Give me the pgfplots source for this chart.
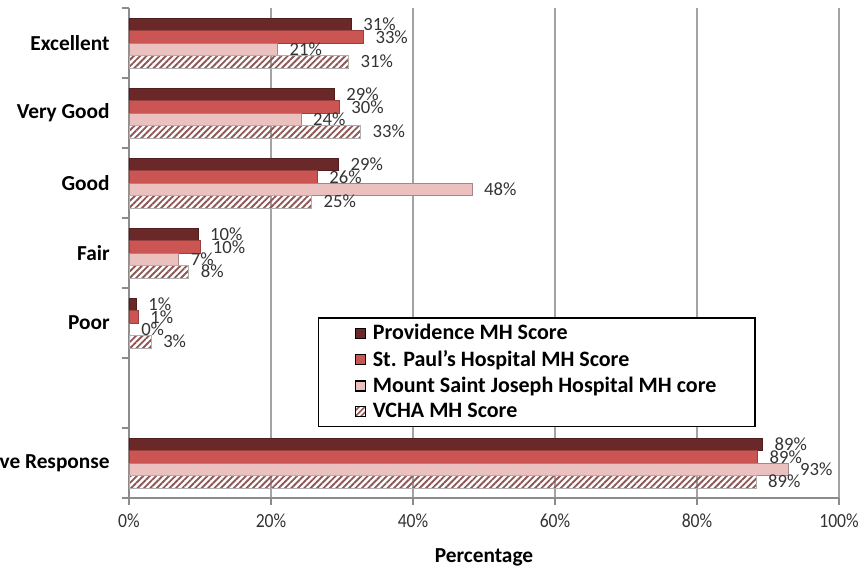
\documentclass[border=0pt]{standalone}
\usepackage{fontspec}
\setmainfont{Carlito}
\newfontfamily\tickfont{Carlito}[FakeStretch=0.88]
\usepackage{pgfplots}
\pgfplotsset{compat=1.18}
\usetikzlibrary{patterns.meta}

\definecolor{prov}{HTML}{6A2828}
\definecolor{sph}{HTML}{CB5552}
\definecolor{msj}{HTML}{EBC1C0}
\definecolor{vcha}{HTML}{8E5655}
\definecolor{gridc}{HTML}{8C8C8C}

\begin{document}
\begin{tikzpicture}
\begin{axis}[
  at={(0,0)}, anchor=south west,
  scale only axis, width=532.5pt, height=367.5pt,
  xbar=0pt, bar width=9.3pt,
  xmin=0, xmax=100, ymin=-0.5, ymax=6.5,
  axis x line*=bottom, axis y line*=left,
  axis line style={-, draw=gridc, line width=0.8pt},
  xtick={0,20,...,100},
  xticklabels={0\%,20\%,40\%,60\%,80\%,100\%},
  ytick={-0.5,0.5,...,6.5}, yticklabels={},
  extra y ticks={0,2,3,4,5,6},
  extra y tick labels={Positive Response,Poor,Fair,Good,Very Good,Excellent},
  extra y tick style={major tick length=0pt},
  tick align=outside, major tick length=5pt,
  tick style={draw=gridc, line width=0.8pt},
  xmajorgrids, grid style={draw=gridc!80, line width=0.8pt},
  xticklabel style={font=\tickfont\fontsize{15}{17}\selectfont, text=black!80, yshift=-3.5pt},
  yticklabel style={font=\bfseries\fontsize{16}{19}\selectfont, xshift=-11pt},
  xlabel={Percentage},
  xlabel style={font=\bfseries\fontsize{16}{19}\selectfont, yshift=-8.5pt},
  nodes near coords, point meta=explicit symbolic,
  nodes near coords style={anchor=west, inner sep=0pt, xshift=9pt,
    font=\fontsize{14}{16}\selectfont, text=black!80},
  legend style={at={(rel axis cs:0.266,0.369)}, anchor=north west,
    draw=black, line width=1pt, inner xsep=27pt, inner ysep=3pt,
    font=\bfseries\fontsize{16.5}{19}\selectfont, row sep=2.5pt, column sep=3pt},
  legend cell align=left,
  legend image code/.code={\fill[#1] (0pt,-3.75pt) rectangle (7.5pt,3.75pt);},
]
\addplot[forget plot, fill=prov, draw=prov!75!black, bar shift=13.95pt] coordinates {
  (31.3,6) [31\%] (28.9,5) [29\%] (29.5,4) [29\%]
  (9.7,3) [10\%] (1.0,2) [1\%] (89.2,0) [89\%]
};
\addplot[forget plot, fill=sph, draw=sph!75!black, bar shift=4.65pt] coordinates {
  (33.0,6) [33\%] (29.6,5) [30\%] (26.5,4) [26\%]
  (10.1,3) [10\%] (1.3,2) [1\%] (88.5,0) [89\%]
};
\addplot[forget plot, fill=msj, draw=msj!70!black, bar shift=-4.65pt] coordinates {
  (20.9,6) [21\%] (24.2,5) [24\%] (48.3,4) [48\%]
  (7.0,3) [7\%] (0,2) [0\%] (92.8,0) [93\%]
};
\addplot[forget plot, pattern={Lines[angle=45, distance=3.4pt, line width=1.4pt]},
  pattern color=vcha, draw=gridc!70, bar shift=-13.95pt] coordinates {
  (30.9,6) [31\%] (32.6,5) [33\%] (25.7,4) [25\%]
  (8.4,3) [8\%] (3.1,2) [3\%] (88.3,0) [89\%]
};
\addlegendimage{fill=prov}
\addlegendimage{fill=sph}
\addlegendimage{fill=msj}
\addlegendimage{pattern={Lines[angle=45, distance=3pt, line width=1.2pt]}, pattern color=vcha}
\legend{Providence MH Score, St. Paul's Hospital MH Score,
  Mount Saint Joseph Hospital MH core, VCHA MH Score}
\end{axis}
\pgfresetboundingbox
\path[use as bounding box] (-96.75pt,-52.5pt) rectangle (548.25pt,373.5pt);
\end{tikzpicture}
\end{document}
